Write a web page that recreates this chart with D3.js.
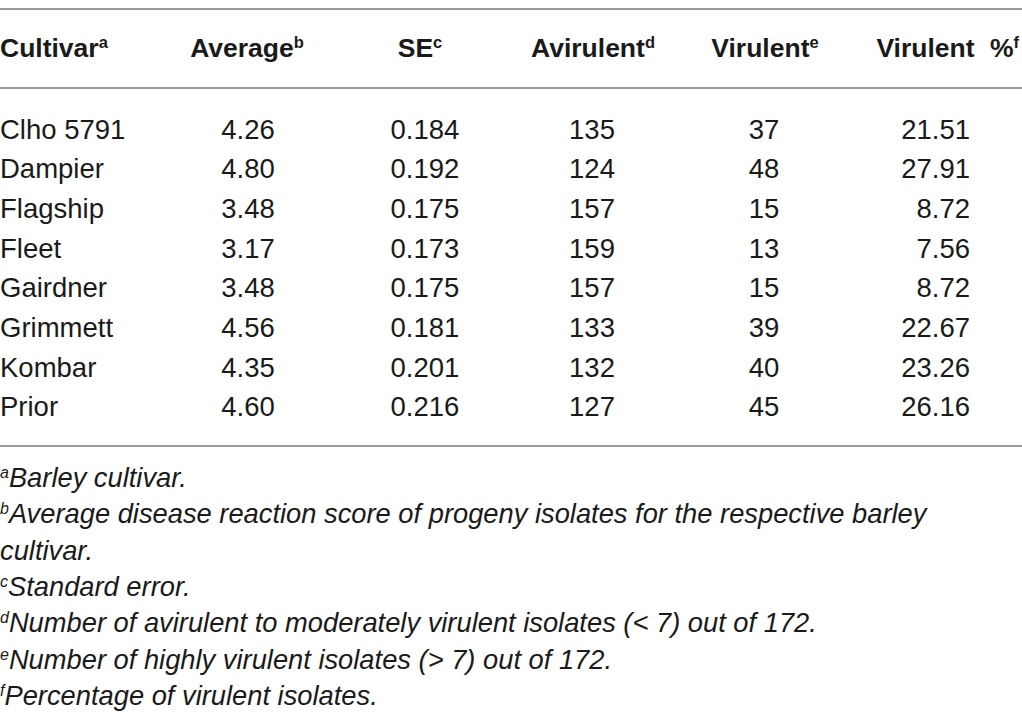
<!DOCTYPE html>
<html>
<head>
<meta charset="utf-8">
<script src="https://cdn.jsdelivr.net/npm/d3@7"></script>
<style>
  body { margin: 0; background: #fff; }
  svg { display: block; }
  text { font-family: "Liberation Sans", Arial, sans-serif; fill: #1a1a1a; }
</style>
</head>
<body>
<script>
var headers = ["Cultivar", "Average", "SE", "Avirulent", "Virulent", "Virulent %"];
var headerMarks = ["a", "b", "c", "d", "e", "f"];
var cultivars = ["Clho 5791", "Dampier", "Flagship", "Fleet", "Gairdner", "Grimmett", "Kombar", "Prior"];
var averages = ["4.26", "4.80", "3.48", "3.17", "3.48", "4.56", "4.35", "4.60"];
var stdErrors = ["0.184", "0.192", "0.175", "0.173", "0.175", "0.181", "0.201", "0.216"];
var avirulent = [135, 124, 157, 159, 157, 133, 132, 127];
var virulent = [37, 48, 15, 13, 15, 39, 40, 45];
var virulentPct = ["21.51", "27.91", "8.72", "7.56", "8.72", "22.67", "23.26", "26.16"];
var footnotes = [
  ["a", "Barley cultivar."],
  ["b", "Average disease reaction score of progeny isolates for the respective barley"],
  ["", "cultivar."],
  ["c", "Standard error."],
  ["d", "Number of avirulent to moderately virulent isolates (< 7) out of 172."],
  ["e", "Number of highly virulent isolates (> 7) out of 172."],
  ["f", "Percentage of virulent isolates."]
];

var width = 1022, height = 727;

var svg = d3.select("body")
            .append("svg")
            .attr("width", width)
            .attr("height", height);

// column anchors: header x, value x, anchor
var cols = [
  { hx: 0,    vx: 0,   ha: "start",  va: "start",  ws: 0 },
  { hx: 247,  vx: 248, ha: "middle", va: "middle", ws: 0 },
  { hx: 420,  vx: 425, ha: "middle", va: "middle", ws: 0 },
  { hx: 593,  vx: 592, ha: "middle", va: "middle", ws: 0 },
  { hx: 765,  vx: 764, ha: "middle", va: "middle", ws: 0 },
  { hx: 1019, vx: 970, ha: "end",    va: "end",    ws: 8 }
];

var rows = cultivars.map(function(c, i) {
  return [c, averages[i], stdErrors[i], String(avirulent[i]), String(virulent[i]), virulentPct[i]];
});

var y = d3.scaleBand()
          .domain(d3.range(rows.length))
          .range([110, 427]);

// rules
[9, 88, 446].forEach(function(ly) {
  svg.append("line")
     .attr("x1", 0).attr("x2", width)
     .attr("y1", ly).attr("y2", ly)
     .attr("stroke", "#9a9a9a")
     .attr("stroke-width", 2);
});

// header
var head = svg.selectAll("text.head")
              .data(headers)
              .enter()
                .append("text")
                .attr("class", "head")
                .attr("x", function(d, i) { return cols[i].hx; })
                .attr("y", 57)
                .attr("text-anchor", function(d, i) { return cols[i].ha; })
                .attr("font-size", 26.5)
                .attr("font-weight", "bold")
                .style("word-spacing", function(d, i) { return cols[i].ws + "px"; })
                .text(function(d) { return d; });
head.append("tspan")
    .attr("font-size", 16.5)
    .attr("dy", -9)
    .text(function(d, i) { return headerMarks[i]; });

// body rows
var rowG = svg.selectAll("g.row")
              .data(rows)
              .enter()
                .append("g")
                .attr("class", "row")
                .attr("transform", function(d, i) {
                  return "translate(0," + (y(i) + y.bandwidth() / 2 + 9) + ")";
                });

rowG.selectAll("text")
    .data(function(d) { return d; })
    .enter()
      .append("text")
      .attr("x", function(d, i) { return cols[i].vx; })
      .attr("text-anchor", function(d, i) { return cols[i].va; })
      .attr("font-size", 27.5)
      .text(function(d) { return d; });

// footnotes
var fn = svg.selectAll("text.foot")
            .data(footnotes)
            .enter()
              .append("text")
              .attr("class", "foot")
              .attr("x", 0)
              .attr("y", function(d, i) { return 487 + i * 36.3; })
              .attr("font-size", 27.3)
              .attr("font-style", "italic");
fn.append("tspan")
  .attr("font-size", 16)
  .attr("dy", -9)
  .text(function(d) { return d[0]; });
fn.append("tspan")
  .attr("dy", function(d) { return d[0] ? 9 : 0; })
  .text(function(d) { return d[1]; });
</script>
</body>
</html>
